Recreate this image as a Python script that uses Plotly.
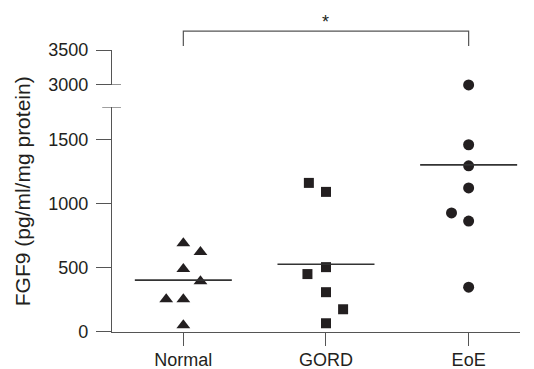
import plotly.graph_objects as go

categories = ["Normal", "GORD", "EoE"]
symbols = ["triangle-up", "square", "circle"]
marker_sizes = [12, 10, 11]

normal_values = [692, 622, 490, 396, 255, 255, 52]
normal_jitter = [0.0, 0.12, 0.0, 0.12, -0.12, 0.0, 0.0]
gord_values = [1161, 1091, 505, 451, 310, 177, 68]
gord_jitter = [-0.12, 0.0, 0.0, -0.13, 0.0, 0.12, 0.0]
eoe_values = [3000, 1458, 1294, 1122, 927, 864, 349]
eoe_jitter = [0.0, 0.0, 0.0, 0.0, -0.12, 0.0, 0.0]
mean_values = [404, 528, 1301]

groups = [
    (normal_values, normal_jitter),
    (gord_values, gord_jitter),
    (eoe_values, eoe_jitter),
]

BREAK = 2000
ink = "#231f20"
axis_col = "#555555"
font = dict(family="Liberation Sans, Arial, sans-serif", size=18, color=ink)
title_font = dict(family="Liberation Sans, Arial, sans-serif", size=21, color=ink)

fig = go.Figure()
for i, (vals, jit) in enumerate(groups):
    lo = [(i + j, v) for v, j in zip(vals, jit) if v < BREAK]
    hi = [(i + j, v) for v, j in zip(vals, jit) if v >= BREAK]
    mk = dict(symbol=symbols[i], size=marker_sizes[i], color=ink, line=dict(width=0))
    if lo:
        fig.add_trace(go.Scatter(x=[p[0] for p in lo], y=[p[1] for p in lo], mode="markers",
                                 marker=mk, cliponaxis=False, showlegend=False,
                                 xaxis="x", yaxis="y"))
    if hi:
        fig.add_trace(go.Scatter(x=[p[0] for p in hi], y=[p[1] for p in hi], mode="markers",
                                 marker=mk, cliponaxis=False, showlegend=False,
                                 xaxis="x", yaxis="y2"))
    # mean line
    fig.add_trace(go.Scatter(x=[i - 0.34, i + 0.34], y=[mean_values[i]] * 2, mode="lines",
                             line=dict(color="#333333", width=1.6), showlegend=False,
                             xaxis="x", yaxis="y", cliponaxis=False))

lower_top = 1750
fig.update_layout(
    width=526, height=361,
    margin=dict(l=104, r=14, t=42, b=37),
    plot_bgcolor="white", paper_bgcolor="white",
    font=font,
    xaxis=dict(range=[-0.5, 2.36], tickvals=[0, 1, 2], ticktext=categories,
               showline=True, linecolor=axis_col, linewidth=1.2,
               ticks="outside", ticklen=13, tickcolor=axis_col, tickwidth=1.2,
               showgrid=False, zeroline=False, anchor="y", tickfont=font,
               automargin=False, ticklabelstandoff=-2),
    yaxis=dict(domain=[0, 0.797], range=[0, lower_top], tickvals=[0, 500, 1000, 1500],
               showline=True, linecolor=axis_col, linewidth=1.2,
               ticks="outside", ticklen=15, tickcolor=axis_col, tickwidth=1.2,
               showgrid=False, zeroline=False, anchor="x", tickfont=font,
               automargin=False, ticklabelstandoff=4),
    yaxis2=dict(domain=[0.876, 1], range=[3000, 3500], tickvals=[3000, 3500],
                showline=True, linecolor=axis_col, linewidth=1.2,
                ticks="outside", ticklen=15, tickcolor=axis_col, tickwidth=1.2,
                showgrid=False, zeroline=False, anchor="x", tickfont=font,
                automargin=False, ticklabelstandoff=4),
)

# axis break marks
fig.add_shape(type="line", xref="paper", yref="y2", x0=0, x1=0.022, y0=3000, y1=3000,
              line=dict(color=axis_col, width=1.2))
fig.add_shape(type="line", xref="paper", yref="y", x0=-0.024, x1=0.022, y0=lower_top, y1=lower_top,
              line=dict(color=axis_col, width=1.2))

# significance bracket
fig.add_shape(type="path", xref="x", yref="paper",
              path="M 0,1.014 L 0,1.067 L 2,1.067 L 2,1.014",
              line=dict(color=axis_col, width=1.2))
fig.add_annotation(x=1, y=1.10, xref="x", yref="paper", text="*", showarrow=False,
                   font=font, yanchor="middle")

fig.add_annotation(x=-0.22, y=0.5, xref="paper", yref="paper", text="FGF9 (pg/ml/mg protein)",
                   textangle=-90, showarrow=False, font=title_font, xanchor="center", yanchor="middle")

fig.write_html("out.html")
